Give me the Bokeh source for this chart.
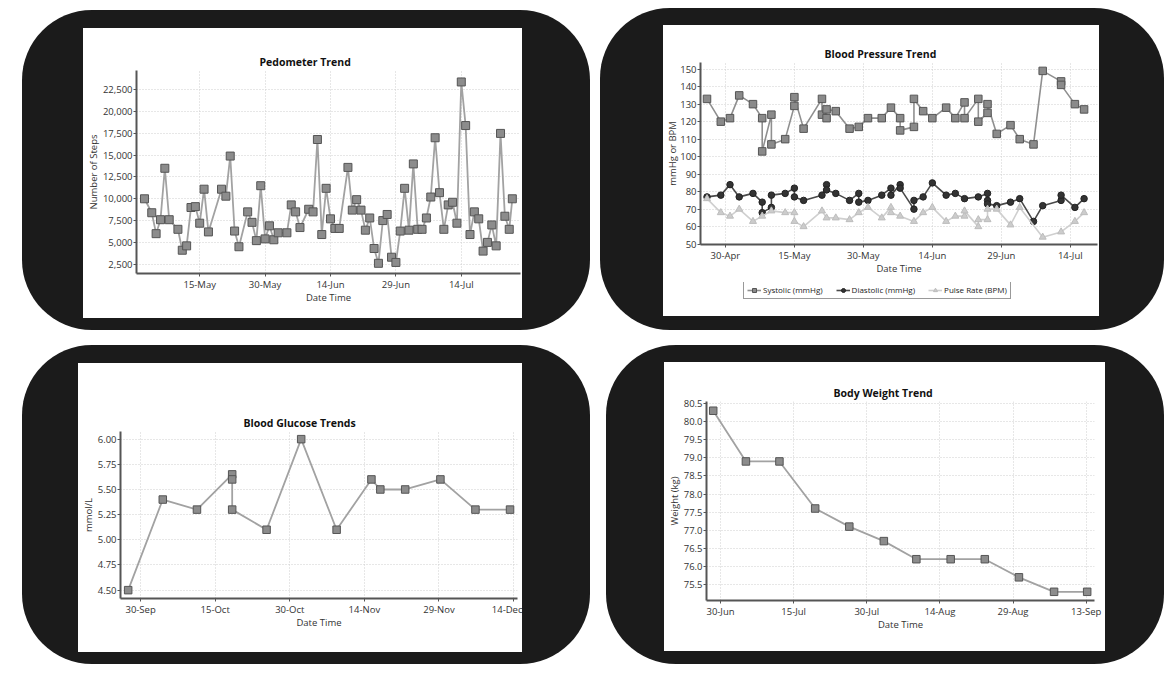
import pandas as pd
from bokeh.plotting import figure
from bokeh.models import (Range1d, FixedTicker, DatetimeTickFormatter, NumeralTickFormatter,
                          Legend, LegendItem, Column, Row)
from bokeh.embed import file_html
from bokeh.resources import INLINE

FONT = "Open Sans"
PHONE = "#1b1b1b"

# ---------------- data: Pedometer ----------------
ped_dates = [
    "2018-05-02 08:00", "2018-05-04", "2018-05-05", "2018-05-06", "2018-05-07", "2018-05-08",
    "2018-05-10", "2018-05-11", "2018-05-12", "2018-05-13", "2018-05-14", "2018-05-15",
    "2018-05-16", "2018-05-17", "2018-05-20", "2018-05-21", "2018-05-22", "2018-05-23",
    "2018-05-24", "2018-05-26", "2018-05-27", "2018-05-28", "2018-05-29", "2018-05-30",
    "2018-05-31", "2018-06-01", "2018-06-02", "2018-06-04", "2018-06-05", "2018-06-06",
    "2018-06-07", "2018-06-09", "2018-06-10", "2018-06-11", "2018-06-12", "2018-06-13",
    "2018-06-14", "2018-06-15", "2018-06-16", "2018-06-18", "2018-06-19", "2018-06-20",
    "2018-06-21", "2018-06-22", "2018-06-23", "2018-06-24", "2018-06-25", "2018-06-26",
    "2018-06-27", "2018-06-28", "2018-06-29", "2018-06-30", "2018-07-01", "2018-07-02",
    "2018-07-03", "2018-07-04", "2018-07-05", "2018-07-06", "2018-07-07", "2018-07-08",
    "2018-07-09", "2018-07-10", "2018-07-11", "2018-07-12", "2018-07-13", "2018-07-14",
    "2018-07-15", "2018-07-16", "2018-07-17", "2018-07-18", "2018-07-19", "2018-07-20",
    "2018-07-21", "2018-07-22", "2018-07-23", "2018-07-24", "2018-07-25", "2018-07-25 17:00",
]
ped_steps = [
    10000, 8400, 6000, 7600, 13500, 7600, 6500, 4100, 4600, 9000,
    9100, 7200, 11100, 6200, 11100, 10300, 14900, 6300, 4500, 8500,
    7300, 5200, 11500, 5400, 6900, 5300, 6100, 6100, 9300, 8500,
    6700, 8800, 8500, 16800, 5900, 11200, 7700, 6600, 6600, 13600,
    8700, 9900, 8700, 6400, 7800, 4300, 2600, 7500, 8200, 3300,
    2700, 6300, 11200, 6400, 14000, 6500, 6500, 7800, 10200, 17000,
    10700, 6500, 9300, 9600, 7200, 23400, 18400, 5900, 8500, 7700,
    4000, 5000, 7000, 4600, 17500, 8000, 6500, 10000,
]
ped_xticks = ["2018-05-15", "2018-05-30", "2018-06-14", "2018-06-29", "2018-07-14"]
ped_yticks = [2500, 5000, 7500, 10000, 12500, 15000, 17500, 20000, 22500]

# ---------------- data: Blood pressure ----------------
sys_dates = [
    "2018-04-26", "2018-04-29", "2018-05-01", "2018-05-03", "2018-05-06", "2018-05-08", "2018-05-08",
    "2018-05-10", "2018-05-10", "2018-05-13", "2018-05-15", "2018-05-15", "2018-05-17", "2018-05-21",
    "2018-05-21", "2018-05-22", "2018-05-22", "2018-05-24", "2018-05-27", "2018-05-29", "2018-05-31",
    "2018-06-03", "2018-06-05", "2018-06-07", "2018-06-07", "2018-06-10", "2018-06-10", "2018-06-12",
    "2018-06-14", "2018-06-17", "2018-06-19", "2018-06-21", "2018-06-21", "2018-06-24", "2018-06-24",
    "2018-06-26", "2018-06-26", "2018-06-28", "2018-07-01", "2018-07-03", "2018-07-06", "2018-07-08",
    "2018-07-12", "2018-07-12", "2018-07-15", "2018-07-17",
]
sys_vals = [133, 120, 122, 135, 130, 122, 103, 124, 107, 110, 129, 134, 116, 133, 124, 122, 127, 126,
            116, 117, 122, 122, 128, 122, 115, 117, 133, 126, 122, 128, 122, 131, 122, 133, 120, 125,
            130, 113, 118, 110, 107, 149, 143, 141, 130, 127]
dia_dates = [
    "2018-04-26", "2018-04-29", "2018-05-01", "2018-05-03", "2018-05-06", "2018-05-08", "2018-05-08",
    "2018-05-10", "2018-05-10", "2018-05-13", "2018-05-15", "2018-05-15", "2018-05-17", "2018-05-21",
    "2018-05-22", "2018-05-22", "2018-05-24", "2018-05-27", "2018-05-29", "2018-05-29", "2018-05-31",
    "2018-06-03", "2018-06-05", "2018-06-05", "2018-06-07", "2018-06-07", "2018-06-10", "2018-06-10",
    "2018-06-12", "2018-06-14", "2018-06-17", "2018-06-19", "2018-06-21", "2018-06-24", "2018-06-26",
    "2018-06-26", "2018-06-26", "2018-06-28", "2018-07-01", "2018-07-03", "2018-07-06", "2018-07-08",
    "2018-07-12", "2018-07-12", "2018-07-15", "2018-07-17",
]
dia_vals = [77, 78, 84, 77, 79, 74, 68, 71, 78, 79, 82, 77, 75, 78, 84, 81, 79, 75, 79, 74, 75, 78,
            82, 78, 84, 82, 70, 75, 77, 85, 78, 79, 76, 77, 79, 75, 73, 72, 74, 76, 63, 72, 75, 78,
            71, 76]
pul_dates = [
    "2018-04-26", "2018-04-29", "2018-05-01", "2018-05-03", "2018-05-06", "2018-05-08", "2018-05-10",
    "2018-05-13", "2018-05-15", "2018-05-15", "2018-05-17", "2018-05-21", "2018-05-22", "2018-05-24",
    "2018-05-27", "2018-05-29", "2018-05-31", "2018-06-03", "2018-06-05", "2018-06-05", "2018-06-07",
    "2018-06-10", "2018-06-12", "2018-06-14", "2018-06-17", "2018-06-19", "2018-06-21", "2018-06-21",
    "2018-06-24", "2018-06-24", "2018-06-26", "2018-06-26", "2018-06-28", "2018-07-01", "2018-07-03",
    "2018-07-08", "2018-07-12", "2018-07-15", "2018-07-17",
]
pul_vals = [76, 68, 66, 70, 63, 66, 69, 68, 68, 63, 60, 69, 65, 65, 64, 68, 71, 65, 71, 68, 66, 63,
            68, 71, 63, 66, 66, 69, 60, 64, 64, 70, 70, 61, 71, 54, 57, 63, 68]
bp_xticks = ["2018-04-30", "2018-05-15", "2018-05-30", "2018-06-14", "2018-06-29", "2018-07-14"]
bp_yticks = [50, 60, 70, 80, 90, 100, 110, 120, 130, 140, 150]
bp_labels = ["Systolic (mmHg)", "Diastolic (mmHg)", "Pulse Rate (BPM)"]

# ---------------- data: Blood glucose ----------------
glu_dates = [
    "2018-09-27 12:00", "2018-10-04 11:00", "2018-10-11 08:00", "2018-10-18 10:00",
    "2018-10-18 10:00", "2018-10-18 10:00", "2018-10-25 08:00", "2018-11-01 07:00",
    "2018-11-08 10:00", "2018-11-15 10:00", "2018-11-17 05:00", "2018-11-22 05:00",
    "2018-11-29 07:00", "2018-12-06 08:00", "2018-12-13 07:00",
]
glu_vals = [4.50, 5.40, 5.30, 5.65, 5.60, 5.30, 5.10, 6.00, 5.10, 5.60, 5.50, 5.50, 5.60, 5.30, 5.30]
glu_xticks = ["2018-09-30", "2018-10-15", "2018-10-30", "2018-11-14", "2018-11-29", "2018-12-14"]
glu_yticks = [4.50, 4.75, 5.00, 5.25, 5.50, 5.75, 6.00]

# ---------------- data: Body weight ----------------
wt_dates = [
    "2018-06-28 12:00", "2018-07-05 05:00", "2018-07-12 02:00", "2018-07-19 10:00",
    "2018-07-26 10:00", "2018-08-02 12:00", "2018-08-09 04:00", "2018-08-16 05:00",
    "2018-08-23 05:00", "2018-08-30 05:00", "2018-09-06 10:00", "2018-09-13 05:00",
]
wt_vals = [80.3, 78.9, 78.9, 77.6, 77.1, 76.7, 76.2, 76.2, 76.2, 75.7, 75.3, 75.3]
wt_xticks = ["2018-06-30", "2018-07-15", "2018-07-30", "2018-08-14", "2018-08-29", "2018-09-13"]
wt_yticks = [75.5, 76.0, 76.5, 77.0, 77.5, 78.0, 78.5, 79.0, 79.5, 80.0, 80.5]


def dt(lst):
    return [pd.Timestamp(s).to_pydatetime() for s in lst]


def ts(s):
    return pd.Timestamp(s).to_pydatetime()


def tms(lst):
    return [pd.Timestamp(s).value // 10**6 for s in lst]


def make(title, w, h, xr, yr, xticks, yticks, yfmt, ylabel, mb, title_off):
    p = figure(width=w, height=h, title=title, x_axis_type="datetime",
               x_range=Range1d(ts(xr[0]), ts(xr[1])), y_range=Range1d(yr[0], yr[1]),
               output_backend="svg", toolbar_location=None,
               min_border_left=mb[0], min_border_right=mb[1],
               min_border_top=mb[2], min_border_bottom=mb[3])
    p.outline_line_color = None
    p.border_fill_color = "white"
    p.background_fill_color = "white"
    p.frame_align = False
    t = p.title
    t.text_font = FONT
    t.text_font_size = "10.5px"
    t.text_font_style = "bold"
    t.text_color = "#111111"
    t.align = "left"
    t.offset = title_off
    t.standoff = 4
    p.xaxis.ticker = FixedTicker(ticks=tms(xticks))
    p.xaxis.formatter = DatetimeTickFormatter(days="%d-%b", months="%d-%b", years="%d-%b",
                                              hours="%d-%b", hourmin="%d-%b")
    p.yaxis.ticker = FixedTicker(ticks=yticks)
    p.yaxis.formatter = NumeralTickFormatter(format=yfmt)
    p.xaxis.axis_label = "Date Time"
    p.yaxis.axis_label = ylabel
    for ax in (p.xaxis[0], p.yaxis[0]):
        ax.axis_line_color = "#555555"
        ax.axis_line_width = 2
        ax.major_tick_line_color = "#555555"
        ax.major_tick_out = 3
        ax.major_tick_in = 0
        ax.minor_tick_line_color = None
        ax.major_label_text_font = FONT
        ax.major_label_text_font_size = "9.5px"
        ax.major_label_text_color = "#333333"
        ax.major_label_standoff = 1
        ax.axis_label_text_font = FONT
        ax.axis_label_text_font_size = "9.5px"
        ax.axis_label_text_font_style = "normal"
        ax.axis_label_text_color = "#333333"
        ax.axis_label_standoff = 0
    p.xaxis.axis_label_standoff = -3
    p.grid.grid_line_color = "#cfcfcf"
    p.grid.grid_line_dash = "1 2"
    p.grid.grid_line_width = 1
    return p


# Pedometer
p1 = make("Pedometer Trend", 439, 290, ("2018-04-30 12:00", "2018-07-27 14:00"), (1431, 24714),
          ped_xticks, ped_yticks, "0,0", "Number of Steps", (53, 2, 42, 45), 123)
x = dt(ped_dates)
p1.line(x, ped_steps, line_color="#a2a2a2", line_width=1.8)
p1.scatter(x, ped_steps, marker="square", size=8, fill_color="#8c8c8c", line_color="#555555")

# Blood pressure (chart + legend strip below it)
p2 = make("Blood Pressure Trend", 436, 257, ("2018-04-24 14:00", "2018-07-19 22:00"), (49.8, 153.8),
          bp_xticks, bp_yticks, "0", "mmHg or BPM", (30, 2, 37, 38), 124)
p2.yaxis.axis_label_standoff = -2
xs, xd, xp = dt(sys_dates), dt(dia_dates), dt(pul_dates)
SYS = dict(line=dict(line_color="#8f8f8f", line_width=1.6),
           mark=dict(marker="square", size=7.5, fill_color="#8a8a8a", line_color="#555555"))
DIA = dict(line=dict(line_color="#4a4a4a", line_width=1.6),
           mark=dict(marker="circle", size=6.5, fill_color="#333333", line_color="#222222"))
PUL = dict(line=dict(line_color="#cfcfcf", line_width=1.6),
           mark=dict(marker="triangle", size=7, fill_color="#cccccc", line_color="#bdbdbd"))
for xx, yy, st in ((xs, sys_vals, SYS), (xd, dia_vals, DIA), (xp, pul_vals, PUL)):
    p2.line(xx, yy, **st["line"])
    p2.scatter(xx, yy, **st["mark"])

# legend strip: swatch renderers sit outside the strip's visible range (legend samples only)
swatch_x = [-5.0, -4.0]
swatch_y = [-5.0, -4.0]
lf = figure(width=436, height=34, output_backend="svg", toolbar_location=None,
            min_border=0, x_axis_location=None, y_axis_location=None,
            x_range=Range1d(0, 1), y_range=Range1d(0, 1))
lf.outline_line_color = None
lf.border_fill_color = "white"
lf.background_fill_color = "white"
lf.frame_align = False
lf.xgrid.grid_line_color = None
lf.ygrid.grid_line_color = None
items = []
for lab, st in zip(bp_labels, (SYS, DIA, PUL)):
    r_l = lf.line(swatch_x, swatch_y, **st["line"])
    r_m = lf.scatter(swatch_x, swatch_y, **st["mark"])
    items.append(LegendItem(label=lab, renderers=[r_l, r_m]))
legend = Legend(items=items, orientation="horizontal", location=(80, 17),
                border_line_color="#333333", border_line_width=1,
                label_text_font=FONT, label_text_font_size="8px", label_text_color="#222222",
                glyph_width=14, glyph_height=10, label_standoff=2, spacing=13,
                padding=3, margin=0, background_fill_color="white", label_height=10)
lf.add_layout(legend)

# Blood glucose
p3 = make("Blood Glucose Trends", 444, 289, ("2018-09-25 23:00", "2018-12-14 19:00"), (4.417, 6.076),
          glu_xticks, glu_yticks, "0.00", "mmol/L", (38, 5, 68, 54), 123)
xg = dt(glu_dates)
p3.line(xg, glu_vals, line_color="#a2a2a2", line_width=1.8)
p3.scatter(xg, glu_vals, marker="square", size=7.5, fill_color="#8c8c8c", line_color="#555555")

# Body weight
p4 = make("Body Weight Trend", 441, 289, ("2018-06-27 03:00", "2018-09-14 17:00"), (75.06, 80.555),
          wt_xticks, wt_yticks, "0.0", "Weight (kg)", (41, 11, 39, 51), 127)
xw = dt(wt_dates)
p4.line(xw, wt_vals, line_color="#a2a2a2", line_width=1.8)
p4.scatter(xw, wt_vals, marker="square", size=7.5, fill_color="#8c8c8c", line_color="#555555")


def phone(figs, pad, margin):
    t, r, b, l = pad
    screen = Column(children=figs, spacing=0, styles={"background-color": "white"})
    return Column(children=[screen], margin=margin,
                  styles={"background-color": PHONE, "border-radius": "70px",
                          "padding": f"{t}px {r}px {b}px {l}px"})


top = Row(children=[phone([p1], (18, 68, 12, 61), (10, 0, 0, 22)),
                    phone([p2, lf], (17, 65, 14, 63), (8, 0, 0, 10))])
bottom = Row(children=[phone([p3], (18, 68, 12, 56), (15, 0, 0, 22)),
                       phone([p4], (17, 59, 13, 58), (15, 0, 0, 16))])
page = Column(children=[top, bottom])

open("out.html", "w").write(file_html(page, INLINE))
